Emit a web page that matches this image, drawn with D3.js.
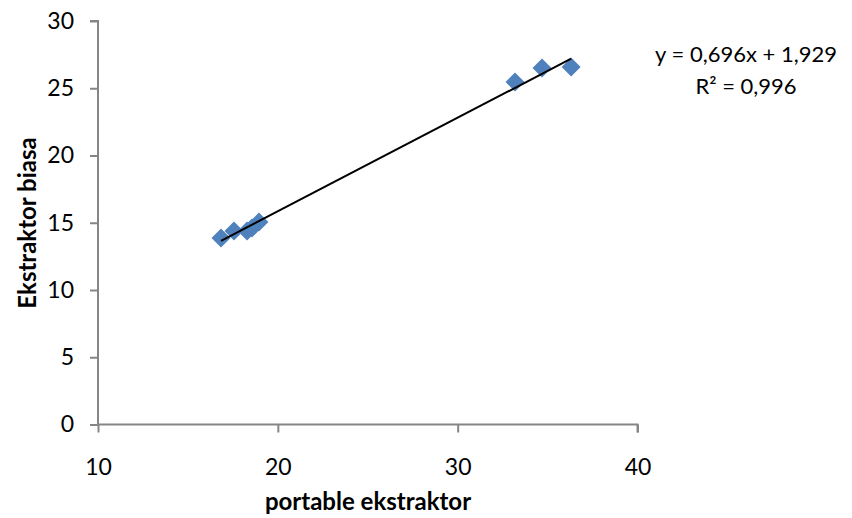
<!DOCTYPE html>
<html>
<head>
<meta charset="utf-8">
<script src="https://cdn.jsdelivr.net/npm/d3@7"></script>
<style>
  body { margin: 0; background: #fff; }
  text { font-family: Lato, "Open Sans", sans-serif; fill: #000; }
</style>
</head>
<body>
<script>
// data
var portable = [16.84, 17.56, 18.29, 18.56, 18.95, 33.19, 34.69, 36.31];
var biasa = [13.87, 14.39, 14.39, 14.61, 15.06, 25.46, 26.51, 26.58];
var xTicks = [10, 20, 30, 40];
var yTicks = [0, 5, 10, 15, 20, 25, 30];
var slope = 0.696, intercept = 1.929;
var eqLines = ["y = 0,696x + 1,929", "R\u00b2 = 0,996"];

var width = 852, height = 518;
var svg = d3.select("body").append("svg").attr("width", width).attr("height", height);

var x = d3.scaleLinear().domain([10, 40]).range([98, 637.5]);
var y = d3.scaleLinear().domain([0, 30]).range([424.5, 21]);

// axes
var xAxis = svg.append("g").attr("transform", "translate(0," + y(0) + ")")
  .call(d3.axisBottom(x).tickValues(xTicks).tickSize(8).tickPadding(26).tickFormat(d3.format("d")));
var yAxis = svg.append("g").attr("transform", "translate(" + x(10) + ",0)")
  .call(d3.axisLeft(y).tickValues(yTicks).tickSize(8).tickPadding(16).tickFormat(d3.format("d")));

[xAxis, yAxis].forEach(function (g) {
  g.select(".domain").attr("stroke", "#868686").attr("stroke-width", 2);
  g.selectAll(".tick line").attr("stroke", "#868686").attr("stroke-width", 2);
  g.selectAll(".tick text").style("font-size", "23px").style("font-family", "Lato, 'Open Sans', sans-serif").attr("fill", "#000");
});
xAxis.select(".domain").attr("d", "M" + x(10) + ",0H" + x(40) + "V8");
yAxis.select(".domain").attr("d", "M-8," + y(30) + "H0V" + y(0));

// points
var pts = portable.map(function (v, i) { return [v, biasa[i]]; });
svg.selectAll(".pt").data(pts).enter().append("path")
  .attr("class", "pt")
  .attr("d", d3.symbol().type(d3.symbolDiamond2).size(230))
  .attr("transform", function (d) { return "translate(" + x(d[0]) + "," + y(d[1]) + ")"; })
  .attr("fill", "#4f81bd");

// trendline
var xmin = d3.min(portable), xmax = d3.max(portable);
svg.append("line")
  .attr("x1", x(xmin)).attr("y1", y(slope * xmin + intercept))
  .attr("x2", x(xmax)).attr("y2", y(slope * xmax + intercept))
  .attr("stroke", "#000").attr("stroke-width", 2);

// equation
svg.selectAll(".eq").data(eqLines).enter().append("text")
  .attr("x", 746).attr("y", function (d, i) { return 62 + i * 32; })
  .attr("text-anchor", "middle").style("font-size", "22px")
  .text(function (d) { return d; });

// axis titles
svg.append("text").attr("x", 368).attr("y", 510).attr("text-anchor", "middle")
  .style("font-size", "24px").style("font-weight", "bold").text("portable ekstraktor");
svg.append("text").attr("transform", "translate(36,223) rotate(-90)").attr("text-anchor", "middle")
  .style("font-size", "24px").style("font-weight", "bold").text("Ekstraktor biasa");
</script>
</body>
</html>
